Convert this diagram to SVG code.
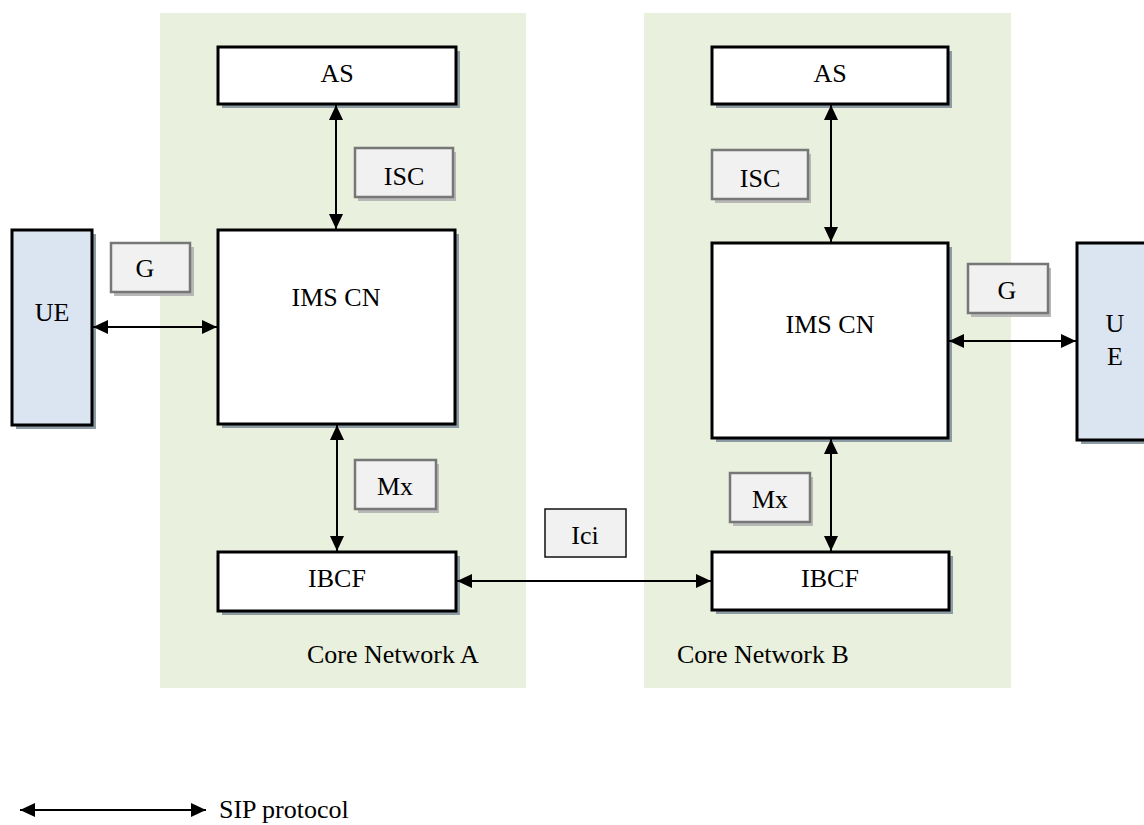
<svg xmlns="http://www.w3.org/2000/svg" width="1144" height="825" viewBox="0 0 1144 825">
<style>
text{font-family:'Liberation Serif','DejaVu Serif',serif;font-size:26px;fill:#000;text-anchor:middle}
.panel{fill:#e9f0dd}
.node{fill:#fff;stroke:#000;stroke-width:3}
.ue{fill:#dbe4f1;stroke:#000;stroke-width:3}
.nsh{fill:#8d9ba5}
.lbl{fill:#f1f1f1;stroke:#777;stroke-width:2.5}
.lsh{fill:#b8b8b8}
.ici{fill:#f1f1f1;stroke:#111;stroke-width:1.5}
.conn{stroke:#000;stroke-width:2;fill:none;marker-start:url(#ah);marker-end:url(#ah)}
</style>
<defs>
<marker id="ah" viewBox="0 0 15 14" refX="15" refY="7" markerWidth="15" markerHeight="14" markerUnits="userSpaceOnUse" orient="auto-start-reverse">
<path d="M0,0 L15,7 L0,14 Z" fill="#000"/>
</marker>
</defs>
<rect width="1144" height="825" fill="#fff"/>
<g font-family="Liberation Serif, DejaVu Serif, serif">
<g id="panelA"><rect class="panel" x="160" y="13" width="366" height="675"/><text x="307" y="663" style="text-anchor:start">Core Network A</text></g>
<g id="panelB"><rect class="panel" x="644" y="13" width="367" height="675"/><text x="677" y="663" style="text-anchor:start">Core Network B</text></g>

<g id="ueA"><rect class="nsh" x="16" y="234" width="80" height="195"/><rect class="ue" x="12" y="230" width="80" height="195"/><text x="52" y="321">UE</text></g>
<g id="asA"><rect class="nsh" x="222" y="51" width="238" height="57"/><rect class="node" x="218" y="47" width="238" height="57"/><text x="337" y="82">AS</text></g>
<g id="imsA"><rect class="nsh" x="222" y="234" width="237" height="194"/><rect class="node" x="218" y="230" width="237" height="194"/><text x="336" y="306">IMS CN</text></g>
<g id="ibcfA"><rect class="nsh" x="222" y="556" width="238" height="59"/><rect class="node" x="218" y="552" width="238" height="59"/><text x="337" y="587">IBCF</text></g>

<g id="asB"><rect class="nsh" x="716" y="51" width="236" height="57"/><rect class="node" x="712" y="47" width="236" height="57"/><text x="830" y="82">AS</text></g>
<g id="imsB"><rect class="nsh" x="716" y="247" width="236" height="195"/><rect class="node" x="712" y="243" width="236" height="195"/><text x="830" y="333">IMS CN</text></g>
<g id="ibcfB"><rect class="nsh" x="716" y="556" width="237" height="58"/><rect class="node" x="712" y="552" width="237" height="58"/><text x="830" y="587">IBCF</text></g>
<g id="ueB"><rect class="nsh" x="1081" y="247" width="70" height="197"/><rect class="ue" x="1077" y="243" width="72" height="197"/><text x="1115" y="332">U</text><text x="1115" y="365">E</text></g>

<g id="labels">
<g id="lblGA"><rect class="lsh" x="114" y="247" width="80" height="49"/><rect class="lbl" x="111" y="243" width="79" height="49"/><text x="145" y="277">G</text></g>
<g id="lblISCA"><rect class="lsh" x="358" y="152" width="98" height="49"/><rect class="lbl" x="355" y="148" width="98" height="49"/><text x="404" y="185">ISC</text></g>
<g id="lblMxA"><rect class="lsh" x="358" y="464" width="81" height="49"/><rect class="lbl" x="355" y="460" width="81" height="49"/><text x="395" y="495">Mx</text></g>
<g id="lblISCB"><rect class="lsh" x="715" y="154" width="96" height="49"/><rect class="lbl" x="712" y="150" width="96" height="49"/><text x="760" y="187">ISC</text></g>
<g id="lblMxB"><rect class="lsh" x="733" y="477" width="80" height="49"/><rect class="lbl" x="730" y="473" width="80" height="49"/><text x="770" y="508">Mx</text></g>
<g id="lblGB"><rect class="lsh" x="971" y="268" width="80" height="49"/><rect class="lbl" x="968" y="264" width="80" height="49"/><text x="1007" y="299">G</text></g>
<g id="lblIci"><rect class="ici" x="545" y="509" width="81" height="48"/><text x="585" y="544">Ici</text></g>
</g>

<g id="connectors">
<line class="conn" x1="93" y1="327" x2="217" y2="327"/>
<line class="conn" x1="336" y1="105" x2="336" y2="229"/>
<line class="conn" x1="337" y1="425" x2="337" y2="551"/>
<line class="conn" x1="457" y1="581" x2="711" y2="581"/>
<line class="conn" x1="831" y1="105" x2="831" y2="242"/>
<line class="conn" x1="831" y1="439" x2="831" y2="551"/>
<line class="conn" x1="949" y1="341" x2="1076" y2="341"/>
</g>

<g id="legend">
<line class="conn" x1="20" y1="810" x2="206" y2="810"/>
<text x="219" y="818" style="text-anchor:start">SIP protocol</text>
</g>
</g>
</svg>
